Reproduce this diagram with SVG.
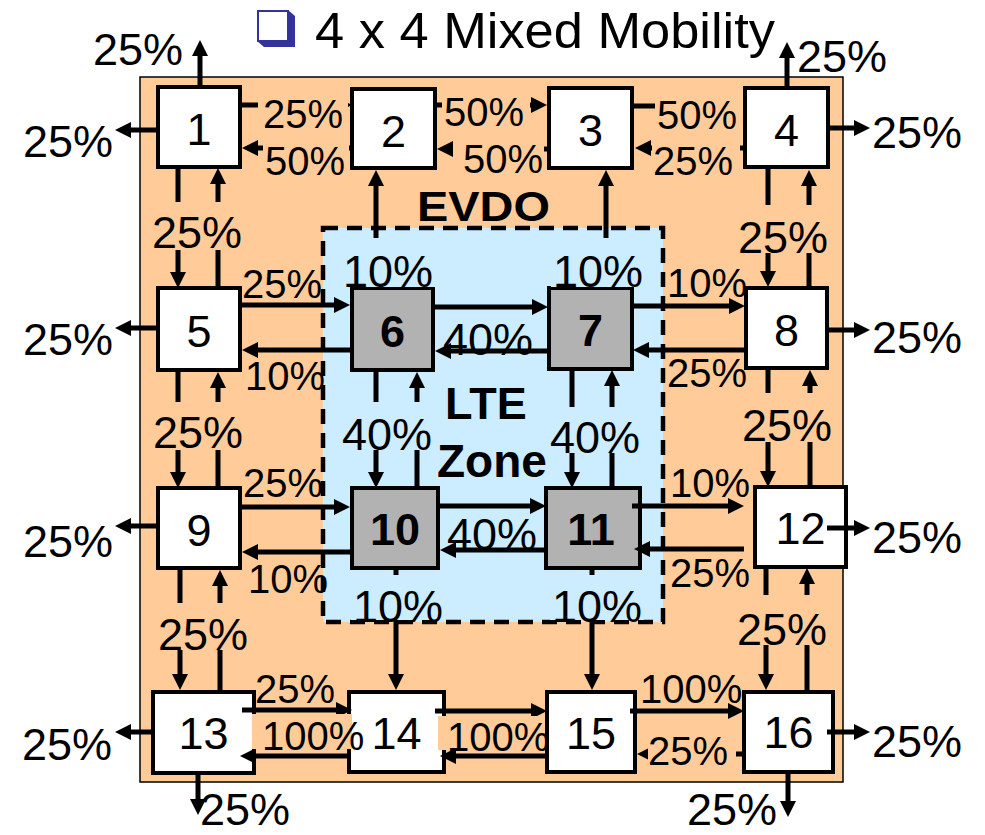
<svg xmlns="http://www.w3.org/2000/svg" width="985" height="835" viewBox="0 0 985 835">
<defs>
<marker id="ah" markerUnits="userSpaceOnUse" markerWidth="16" markerHeight="16" refX="4" refY="8" orient="auto" overflow="visible">
<path d="M0,0 L16,8 L0,16 z" fill="#000"/>
</marker>
<style>
text { font-family: "Liberation Sans", Arial, Helvetica, sans-serif; fill:#000; }
.num { font-size:45px; text-anchor:middle; }
.b { font-weight:bold; }
.lb { font-size:45px; }
.ls { font-size:40px; }
.node rect { stroke:#000; stroke-width:4; }
.w { fill:#fff; }
.g { fill:#B2B2B2; }
#connectors path { stroke:#000; stroke-width:5; fill:none; marker-end:url(#ah); }
.bgo { fill:#FFCC99; }
.bgb { fill:#CCECFF; }
</style>
</defs>
<rect width="985" height="835" fill="#fff"/>
<g id="title">
<polygon points="288,10 295,16 295,47 264,47 257,41 288,41" fill="#333399"/>
<rect x="258" y="11" width="30" height="30" fill="#fff" stroke="#333399" stroke-width="2"/>
<text x="315" y="48" font-size="50" textLength="460" lengthAdjust="spacingAndGlyphs">4 x 4 Mixed Mobility</text>
</g>
<rect id="area" x="140" y="77" width="703" height="705" fill="#FFCC99" stroke="#000" stroke-width="1.5"/>
<rect id="lte-fill" x="323" y="228" width="340" height="394" fill="#CCECFF"/>

<g id="n1" class="node"><rect class="w" x="158" y="87" width="82" height="80"/><text class="num" x="199" y="145">1</text></g>
<g id="n2" class="node"><rect class="w" x="352" y="89" width="83" height="79"/><text class="num" x="393.5" y="147">2</text></g>
<g id="n3" class="node"><rect class="w" x="549" y="88" width="83" height="80"/><text class="num" x="590.5" y="146">3</text></g>
<g id="n4" class="node"><rect class="w" x="745" y="88" width="83" height="79"/><text class="num" x="786.5" y="146">4</text></g>
<g id="n5" class="node"><rect class="w" x="158" y="288" width="82" height="82"/><text class="num" x="199" y="347">5</text></g>
<g id="n6" class="node"><rect class="g" x="352" y="288" width="81" height="82"/><text class="num b" x="392.5" y="347">6</text></g>
<g id="n7" class="node"><rect class="g" x="549" y="288" width="83" height="81"/><text class="num b" x="590.5" y="346">7</text></g>
<g id="n8" class="node"><rect class="w" x="746" y="288" width="81" height="80"/><text class="num" x="786.5" y="346">8</text></g>
<g id="n9" class="node"><rect class="w" x="158" y="488" width="82" height="80"/><text class="num" x="199" y="546">9</text></g>
<g id="n10" class="node"><rect class="g" x="352" y="488" width="86" height="80"/><text class="num b" x="395" y="545">10</text></g>
<g id="n11" class="node"><rect class="g" x="546" y="488" width="94" height="80"/><text class="num b" x="591" y="545">11</text></g>
<g id="n12" class="node"><rect class="w" x="755" y="487" width="91" height="80"/><text class="num" x="800.5" y="544">12</text></g>
<g id="n13" class="node"><rect class="w" x="153" y="692" width="101" height="81"/><text class="num" x="203.5" y="749">13</text></g>
<g id="n14" class="node"><rect class="w" x="349" y="692" width="95" height="80"/><text class="num" x="396.5" y="749">14</text></g>
<g id="n15" class="node"><rect class="w" x="547" y="692" width="88" height="80"/><text class="num" x="591" y="749">15</text></g>
<g id="n16" class="node"><rect class="w" x="744" y="692" width="89" height="80"/><text class="num" x="788.5" y="748">16</text></g>

<g id="connectors">
<path d="M200,87 L200,52"/>
<path d="M158,130 L127,130"/>
<path d="M787,88 L787,54"/>
<path d="M828,128 L858,128"/>
<path d="M158,328 L127,328"/>
<path d="M827,330 L858,330"/>
<path d="M158,526 L127,526"/>
<path d="M827,528 L858,528"/>
<path d="M153,732 L127,732"/>
<path d="M827,732 L858,732"/>
<path d="M198,773 L198,803"/>
<path d="M788,772 L788,805"/>
<path d="M240,105 L340,105"/>
<path d="M352,148 L254,148"/>
<path d="M435,105 L535,105"/>
<path d="M549,149 L449,149"/>
<path d="M632,106 L734,106"/>
<path d="M745,148 L647,148"/>
<path d="M376,288 L376,182"/>
<path d="M606,288 L606,182"/>
<path d="M178,167 L178,276"/>
<path d="M218,288 L218,180"/>
<path d="M178,370 L178,476"/>
<path d="M218,488 L218,384"/>
<path d="M180,568 L180,678"/>
<path d="M220,692 L220,582"/>
<path d="M768,167 L768,275"/>
<path d="M809,288 L809,182"/>
<path d="M768,368 L768,475"/>
<path d="M810,487 L810,382"/>
<path d="M766,567 L766,678"/>
<path d="M807,692 L807,580"/>
<path d="M240,305 L338,305"/>
<path d="M352,350 L254,350"/>
<path d="M433,307 L536,307"/>
<path d="M549,351 L447,351"/>
<path d="M632,306 L733,306"/>
<path d="M746,350 L645,350"/>
<path d="M376,370 L376,476"/>
<path d="M417,488 L417,384"/>
<path d="M572,369 L572,476"/>
<path d="M612,488 L612,382"/>
<path d="M240,507 L338,507"/>
<path d="M352,552 L254,552"/>
<path d="M437,506 L534,506"/>
<path d="M546,550 L452,550"/>
<path d="M632,506 L732,506"/>
<path d="M744,549 L646,549"/>
<path d="M396,568 L396,678"/>
<path d="M592,568 L592,678"/>
<path d="M242,710 L340,710"/>
<path d="M349,756 L252,756"/>
<path d="M435,711 L535,711"/>
<path d="M547,756 L452,756"/>
<path d="M630,711 L732,711"/>
<path d="M745,754 L649,754"/>
</g>

<rect id="lte-border" x="323" y="228" width="340" height="394" fill="none" stroke="#000" stroke-width="4.5" stroke-dasharray="15 9"/>

<g id="zone-labels">
<text class="b" x="417" y="221" font-size="43" textLength="133" lengthAdjust="spacingAndGlyphs">EVDO</text>
<text class="b" x="445" y="419" font-size="45">LTE</text>
<text class="b" x="437" y="477" font-size="46">Zone</text>
</g>

<g id="labels">
<text class="lb" x="93" y="65">25%</text>
<text class="lb" x="23" y="157">25%</text>
<text class="lb" x="797" y="72">25%</text>
<text class="lb" x="872" y="148">25%</text>
<text class="lb" x="23" y="355">25%</text>
<text class="lb" x="872" y="353">25%</text>
<text class="lb" x="23" y="557">25%</text>
<text class="lb" x="872" y="553">25%</text>
<text class="lb" x="22" y="760">25%</text>
<text class="lb" x="872" y="757">25%</text>
<text class="lb" x="200" y="825">25%</text>
<text class="lb" x="687" y="825">25%</text>

<rect class="bgo" x="150" y="202" width="98" height="48"/><text class="lb" x="152" y="248">25%</text>
<rect class="bgo" x="150" y="402" width="98" height="48"/><text class="lb" x="153" y="448">25%</text>
<rect class="bgo" x="155" y="603" width="98" height="47"/><text class="lb" x="158" y="650">25%</text>
<rect class="bgo" x="735" y="205" width="98" height="48"/><text class="lb" x="738" y="253">25%</text>
<rect class="bgo" x="739" y="393" width="96" height="49"/><text class="lb" x="742" y="441">25%</text>
<rect class="bgo" x="734" y="595" width="97" height="50"/><text class="lb" x="737" y="645">25%</text>

<rect class="bgb" x="341" y="238" width="94" height="49"/><text class="lb" x="343" y="287">10%</text>
<rect class="bgb" x="551" y="238" width="93" height="49"/><text class="lb" x="553" y="287">10%</text>
<rect class="bgb" x="340" y="402" width="97" height="48"/><text class="lb" x="342" y="450">40%</text>
<rect class="bgb" x="548" y="407" width="97" height="46"/><text class="lb" x="550" y="453">40%</text>
<rect class="bgb" x="351" y="575" width="94" height="45"/><text class="lb" x="353" y="622">10%</text>
<rect class="bgb" x="550" y="575" width="94" height="45"/><text class="lb" x="552" y="622">10%</text>

<rect class="bgo" x="258" y="97" width="90" height="33"/><text class="ls" x="263" y="128">25%</text>
<rect class="bgo" x="263" y="143" width="86" height="33"/><text class="ls" x="265" y="175">50%</text>
<rect class="bgo" x="442" y="97" width="88" height="30"/><text class="ls" x="444" y="126">50%</text>
<rect class="bgo" x="453" y="141" width="91" height="34"/><text class="ls" x="463" y="173">50%</text>
<rect class="bgo" x="655" y="97" width="88" height="33"/><text class="ls" x="657" y="129">50%</text>
<rect class="bgo" x="652" y="141" width="88" height="35"/><text class="ls" x="653" y="175">25%</text>

<text class="ls" x="242" y="298">25%</text>
<text class="ls" x="245" y="390">10%</text>
<text class="lb" x="443" y="355">40%</text>
<text class="ls" x="667" y="297">10%</text>
<text class="ls" x="667" y="387">25%</text>
<text class="ls" x="243" y="497">25%</text>
<text class="ls" x="248" y="593">10%</text>
<text class="lb" x="447" y="550">40%</text>
<text class="ls" x="670" y="497">10%</text>
<text class="ls" x="670" y="587">25%</text>

<text class="ls" x="255" y="703">25%</text>
<rect class="bgo" x="252" y="714" width="100" height="35"/><text class="ls" x="262" y="750">100%</text>
<rect class="bgo" x="438" y="716" width="106" height="34"/><text class="ls" x="447" y="751">100%</text>
<text class="ls" x="640" y="703">100%</text>
<rect class="bgo" x="648" y="738" width="88" height="30"/><text class="ls" x="648" y="765">25%</text>
</g>
</svg>
